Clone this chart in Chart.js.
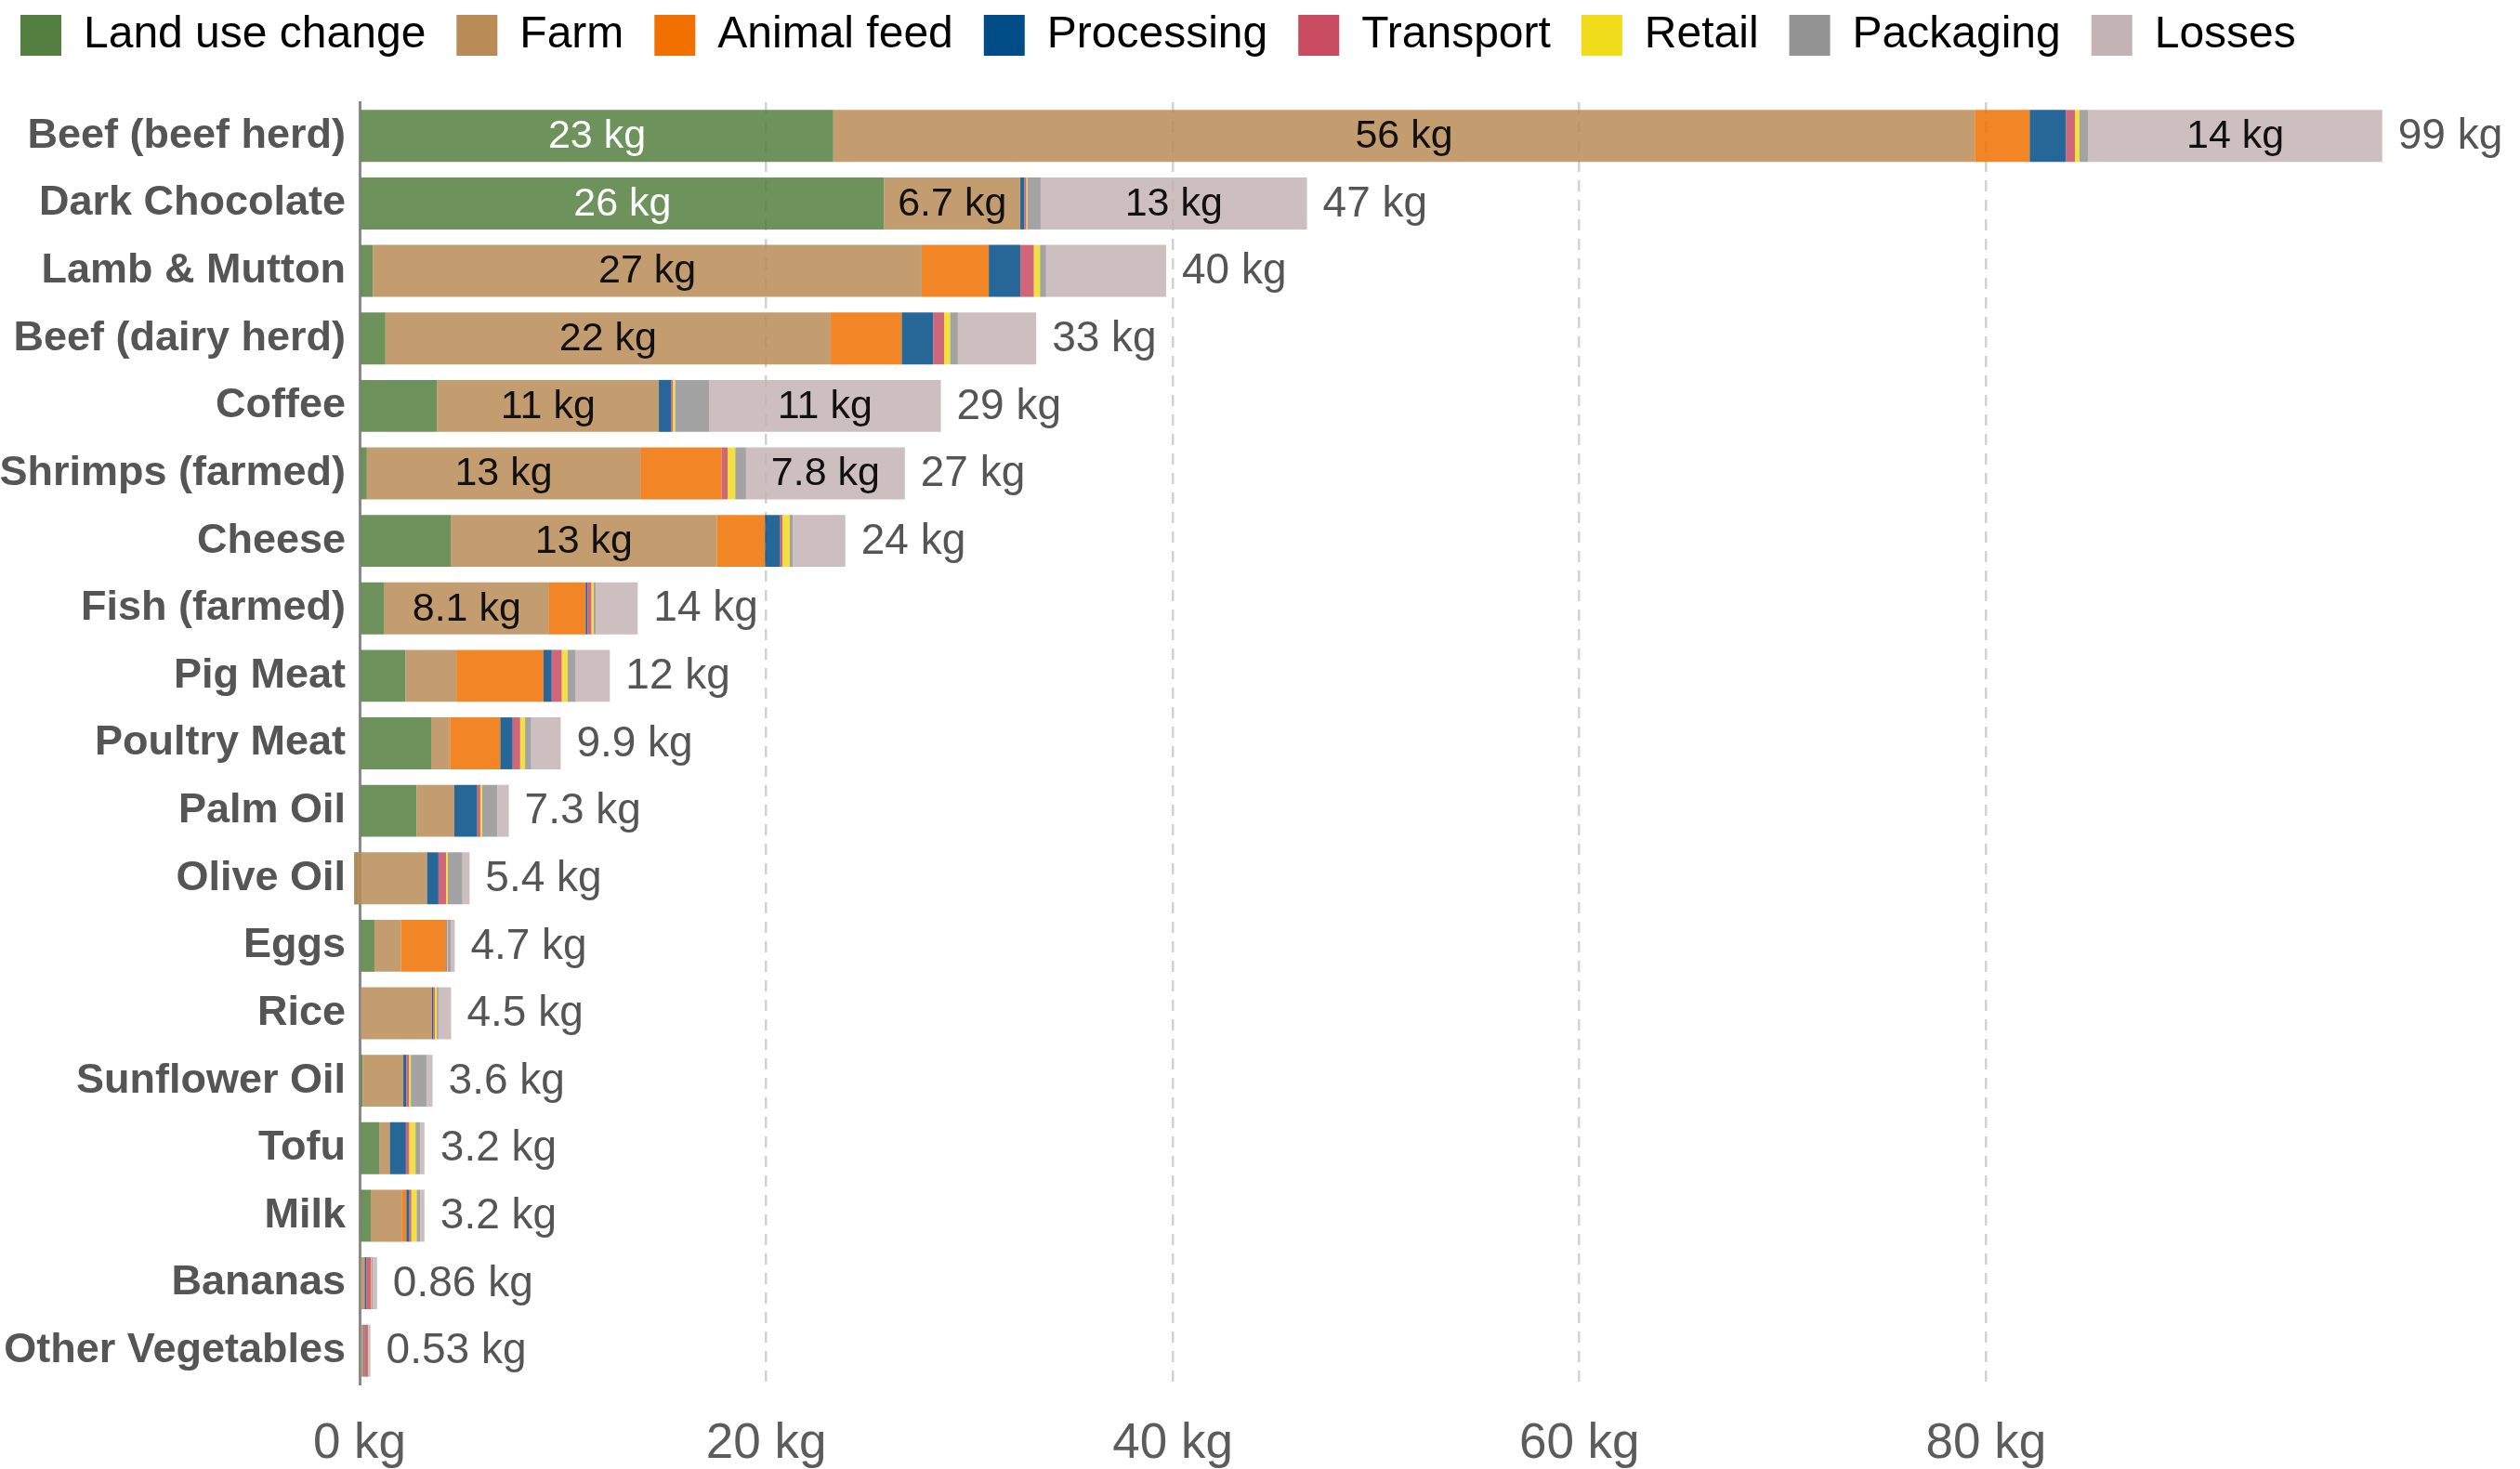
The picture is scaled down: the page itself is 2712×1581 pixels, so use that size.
<!DOCTYPE html>
<html>
<head>
<meta charset="utf-8">
<script src="https://cdn.jsdelivr.net/npm/chart.js@4.4.1/dist/chart.umd.min.js"></script>
<style>
    html, body { margin: 0; padding: 0; background: #fff; }
    #wrap { width: 2712px; height: 1581px; position: relative; }
</style>
</head>
<body>
<div id="wrap"><canvas id="foodChart"></canvas></div>
<script>
const foods = ['Beef (beef herd)', 'Dark Chocolate', 'Lamb & Mutton', 'Beef (dairy herd)', 'Coffee',
    'Shrimps (farmed)', 'Cheese', 'Fish (farmed)', 'Pig Meat', 'Poultry Meat', 'Palm Oil', 'Olive Oil',
    'Eggs', 'Rice', 'Sunflower Oil', 'Tofu', 'Milk', 'Bananas', 'Other Vegetables'];
const stages = ['Land use change', 'Farm', 'Animal feed', 'Processing', 'Transport', 'Retail', 'Packaging', 'Losses'];

// kg CO2eq per kg of product, by supply chain stage
const landUse    = [23.3, 25.8, 0.65, 1.27, 3.82, 0.36, 4.48, 1.22, 2.26, 3.52, 2.8, -0.26, 0.73, 0, 0.15, 0.99, 0.55, 0, 0];
const farm       = [56.15, 6.7, 27.0, 21.9, 10.9, 13.45, 13.1, 8.1, 2.5, 0.93, 1.86, 3.58, 1.3, 3.56, 2.0, 0.5, 1.52, 0.25, 0.2];
const animalFeed = [2.7, 0, 3.3, 3.5, 0, 4.0, 2.36, 1.8, 4.29, 2.47, 0, 0, 2.21, 0, 0, 0, 0.23, 0, 0];
const processing = [1.79, 0.2, 1.55, 1.55, 0.6, 0, 0.75, 0.09, 0.4, 0.61, 1.13, 0.56, 0.03, 0.06, 0.15, 0.79, 0.15, 0.08, 0.05];
const transport  = [0.44, 0.1, 0.67, 0.53, 0.1, 0.29, 0.12, 0.2, 0.5, 0.37, 0.15, 0.38, 0.04, 0.08, 0.14, 0.17, 0.1, 0.24, 0.16];
const retail     = [0.22, 0.05, 0.3, 0.3, 0.1, 0.38, 0.35, 0.1, 0.28, 0.24, 0.09, 0.08, 0.02, 0.1, 0.08, 0.3, 0.26, 0.02, 0.02];
const packaging  = [0.44, 0.65, 0.3, 0.38, 1.67, 0.53, 0.14, 0.12, 0.4, 0.3, 0.75, 0.72, 0.15, 0.08, 0.78, 0.23, 0.17, 0.06, 0.02];
const losses     = [14.45, 13.1, 5.9, 3.85, 11.4, 7.81, 2.59, 2.05, 1.68, 1.45, 0.56, 0.35, 0.2, 0.62, 0.29, 0.21, 0.21, 0.21, 0.08];

const xTicks = [0, 20, 40, 60, 80];
const xMax = 99;
const labelMin = 6.5; // segments at least this big get a value label

const series = [landUse, farm, animalFeed, processing, transport, retail, packaging, losses];
const legendColors = ['#537f40', '#b98b56', '#f07000', '#004c86', '#c84b62', '#f0dc1a', '#939393', '#c4b3b4'];
const barColors = ['rgba(83,127,64,0.85)', 'rgba(185,139,86,0.85)', 'rgba(240,112,0,0.85)', 'rgba(0,76,134,0.85)',
    'rgba(200,75,98,0.85)', 'rgba(240,220,26,0.85)', 'rgba(147,147,147,0.85)', 'rgba(196,179,180,0.85)'];

const fontFamily = "'Liberation Sans', Arial, sans-serif";

function fmt(v) {
    return Number(v.toPrecision(2)) + ' kg';
}

// segments run one after another, so each is a floating bar [start, end]
const running = foods.map(() => 0);
const datasets = series.map((values, s) => {
    const data = values.map((v, i) => {
        const seg = [running[i], running[i] + v];
        running[i] += v;
        return seg;
    });
    return {
        label: stages[s],
        data: data,
        backgroundColor: barColors[s],
        borderWidth: 0,
        grouped: false,
        clip: false,
        order: series.length - s // later stages painted on top
    };
});
const totals = running.slice();

const barLabels = {
    id: 'barLabels',
    beforeLayout(chart) {
        const legend = chart.legend;
        if (legend && !legend._patched) {
            const fit = legend.fit;
            legend.fit = function () {
                fit.call(this);
                this.height = 129;
            };
            legend._patched = true;
        }
    },
    afterDatasetsDraw(chart) {
        const ctx = chart.ctx;
        ctx.save();
        ctx.textBaseline = 'middle';
        ctx.textAlign = 'center';
        ctx.font = '43px ' + fontFamily;
        series.forEach((values, s) => {
            const meta = chart.getDatasetMeta(s);
            meta.data.forEach((bar, i) => {
                if (values[i] < labelMin) return;
                ctx.fillStyle = s === 0 ? '#ffffff' : '#111111';
                ctx.fillText(fmt(values[i]), (bar.x + bar.base) / 2, bar.y + 1);
            });
        });
        ctx.textAlign = 'left';
        ctx.font = '46px ' + fontFamily;
        ctx.fillStyle = '#555555';
        const xs = chart.scales.x, ys = chart.scales.y;
        totals.forEach((t, i) => {
            ctx.fillText(fmt(t), xs.getPixelForValue(t) + 17, ys.getPixelForValue(i) + 1);
        });
        ctx.restore();
    }
};

const chart = new Chart(document.getElementById('foodChart'), {
    type: 'bar',
    data: { labels: foods, datasets: datasets },
    options: {
        indexAxis: 'y',
        responsive: true,
        maintainAspectRatio: false,
        devicePixelRatio: 1,
        animation: false,
        barPercentage: 0.77,
        categoryPercentage: 1.0,
        layout: { padding: { left: -11, right: 159, top: -19, bottom: 0 } },
        scales: {
            x: {
                min: 0,
                max: xMax,
                afterBuildTicks: scale => { scale.ticks = xTicks.map(v => ({ value: v })); },
                afterFit: scale => { scale.height = 91; },
                grid: {
                    color: c => (c.tick && c.tick.value === 0) ? 'rgba(0,0,0,0)' : '#d2d2d2',
                    lineWidth: 2.5,
                    drawTicks: false
                },
                border: { display: false, dash: [12, 9] },
                ticks: {
                    padding: 33,
                    color: '#5c5c5c',
                    font: { family: fontFamily, size: 53 },
                    callback: v => v + ' kg'
                }
            },
            y: {
                afterFit: scale => { scale.width = 398; },
                grid: { display: false, drawTicks: false },
                border: { display: true, color: '#8a8a8a', width: 3 },
                ticks: {
                    padding: 15,
                    color: '#555555',
                    font: { family: fontFamily, size: 45, weight: 'bold' }
                }
            }
        },
        plugins: {
            tooltip: { enabled: false },
            legend: {
                position: 'top',
                align: 'start',
                labels: {
                    boxWidth: 44,
                    boxHeight: 44,
                    padding: 33,
                    color: '#111111',
                    font: { family: fontFamily, size: 48 },
                    generateLabels: () => stages.map((name, s) => ({
                        text: name,
                        fillStyle: legendColors[s],
                        strokeStyle: legendColors[s],
                        lineWidth: 0,
                        hidden: false,
                        datasetIndex: s
                    }))
                }
            }
        }
    },
    plugins: [barLabels]
});
</script>
</body>
</html>
